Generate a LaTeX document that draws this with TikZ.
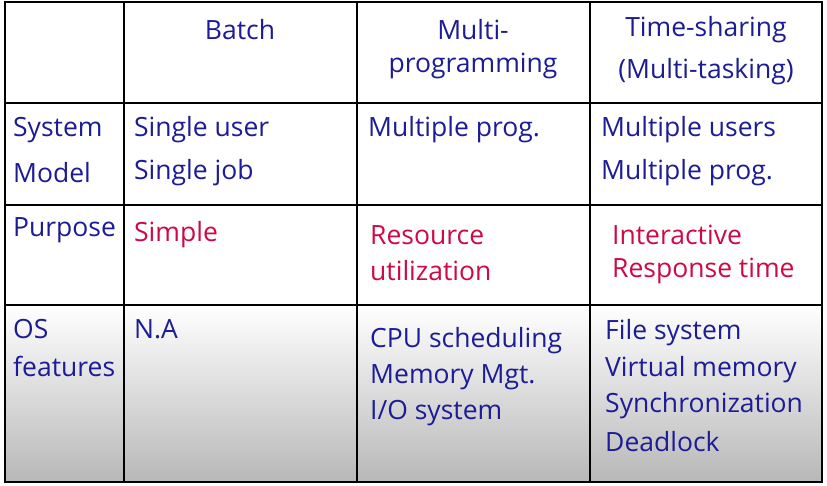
\documentclass[tikz,border=0pt]{standalone}
\usepackage{fontspec}
\setmainfont{Open Sans}
\definecolor{tblue}{RGB}{28,28,150}
\definecolor{tred}{RGB}{205,10,70}
\begin{document}
\begin{tikzpicture}[x=1pt,y=-1pt,
  cell/.style={anchor=west,inner sep=0pt,font=\fontsize{26.5}{30}\selectfont,text=tblue},
  hd/.style={anchor=center,inner sep=0pt,font=\fontsize{26.5}{30}\selectfont,text=tblue},
  rd/.style={cell,text=tred}]
\useasboundingbox (0,0) rectangle (827,485);
\fill[white] (0,0) rectangle (827,485);
\shade[top color=white,bottom color=black!28] (5,305) rectangle (822,482);
\draw[line width=1.2pt] (5,2) rectangle (822,482);
\foreach \x in {124,357,590} \draw[line width=1.2pt] (\x,2) -- (\x,482);
\foreach \y in {103,205,305} \draw[line width=1.2pt] (5,\y) -- (822,\y);
\node[hd] (h1) at (240,30) {Batch};
\node[hd] (h2a) at (473,30) {Multi-};
\node[hd] (h2b) at (473,66) {programming};
\node[hd] (h3a) at (706,30) {Time-sharing};
\node[hd] (h3b) at (706,72) {(Multi-tasking)};
\node[cell] (r1a) at (13,130) {System};
\node[cell] (r1b) at (13,173) {Model};
\node[cell] (b1a) at (134,130) {Single user};
\node[cell] (b1b) at (134,173) {Single job};
\node[cell] (m1) at (368,130) {Multiple prog.};
\node[cell] (t1a) at (601,130) {Multiple users};
\node[cell] (t1b) at (601,173) {Multiple prog.};
\node[cell] (r2) at (13,230) {Purpose};
\node[rd] (b2) at (134,235) {Simple};
\node[rd] (m2a) at (370,235) {Resource};
\node[rd] (m2b) at (370,271) {utilization};
\node[rd] (t2a) at (612,235) {Interactive};
\node[rd] (t2b) at (612,271) {Response time};
\node[cell] (r3a) at (13,329) {OS};
\node[cell] (r3b) at (13,366) {features};
\node[cell] (b3) at (134,329) {N.A};
\node[cell] (m3a) at (370,341) {CPU scheduling};
\node[cell] (m3b) at (370,377) {Memory Mgt.};
\node[cell] (m3c) at (370,413) {I/O system};
\node[cell] (t3a) at (605,333) {File system};
\node[cell] (t3b) at (605,370) {Virtual memory};
\node[cell] (t3c) at (605,406) {Synchronization};
\node[cell] (t3d) at (605,442) {Deadlock};
\end{tikzpicture}
\end{document}
